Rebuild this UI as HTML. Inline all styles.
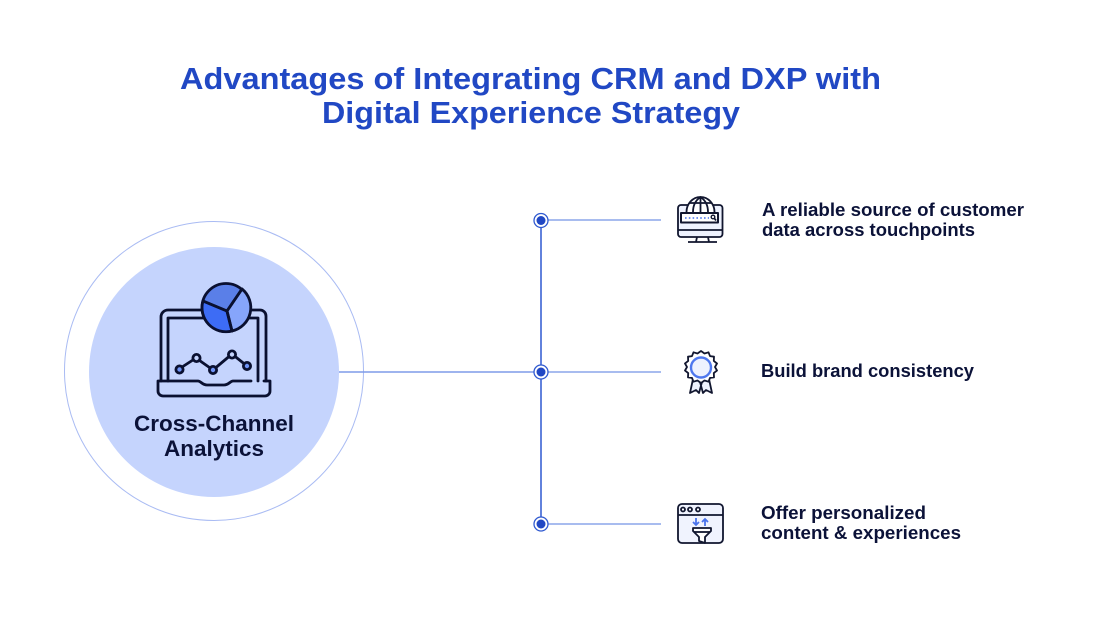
<!DOCTYPE html>
<html>
<head>
<meta charset="utf-8">
<style>
html,body{margin:0;padding:0;background:#fff;width:1115px;height:624px;overflow:hidden}
svg{display:block}
text{font-family:"Liberation Sans",sans-serif}
</style>
</head>
<body>
<svg width="1115" height="624" viewBox="0 0 1115 624" xmlns="http://www.w3.org/2000/svg">
<rect width="1115" height="624" fill="#fff"/>
<g font-weight="700" font-size="31" fill="#2148c4">
<text x="180" y="89" textLength="701" lengthAdjust="spacingAndGlyphs">Advantages of Integrating CRM and DXP with</text>
<text x="322" y="123" textLength="418" lengthAdjust="spacingAndGlyphs">Digital Experience Strategy</text>
</g>

<circle cx="214" cy="371" r="149.5" fill="none" stroke="#a9bbf3" stroke-width="1"/>
<circle cx="214" cy="372" r="125" fill="#c5d4fd"/>

<!-- connectors -->
<g fill="none">
<line x1="339" y1="372" x2="535" y2="372" stroke="#7f9be8" stroke-width="1.5"/>
<line x1="547" y1="372" x2="661" y2="372" stroke="#8ba5ea" stroke-width="1.5"/>
<line x1="547" y1="220" x2="661" y2="220" stroke="#8ba5ea" stroke-width="1.5"/>
<line x1="547" y1="524" x2="661" y2="524" stroke="#8ba5ea" stroke-width="1.5"/>
<line x1="541" y1="227" x2="541" y2="517" stroke="#2f59d0" stroke-width="1.5"/>
</g>
<g>
<circle cx="541" cy="220.500" r="7" fill="#fff" stroke="#2f59d0" stroke-width="1.3"/><circle cx="541" cy="220.500" r="4.500" fill="#2148c4"/>
<circle cx="541" cy="372" r="7" fill="#fff" stroke="#2f59d0" stroke-width="1.3"/><circle cx="541" cy="372" r="4.500" fill="#2148c4"/>
<circle cx="541" cy="524" r="7" fill="#fff" stroke="#2f59d0" stroke-width="1.3"/><circle cx="541" cy="524" r="4.500" fill="#2148c4"/>
</g>

<!-- laptop -->
<g stroke="#0a1030" stroke-width="2.800" fill="none" stroke-linecap="round" stroke-linejoin="round">
<path d="M161 381V317a7 7 0 0 1 7-7H260a6 6 0 0 1 6 6V381"/>
<path d="M168 381V318H258V381"/>
<path d="M158 381H198c3 0 4 4 9 4H224c5 0 6-4 9-4H251M158 381V391a5 5 0 0 0 5 5H265a5 5 0 0 0 5-5V381H264"/>
<path d="M179 369L196 358M196 358L213 370M213 370L232 354M232 354L247 366"/>
<circle cx="179.500" cy="369.500" r="3.600" fill="#6f93f5"/>
<circle cx="196.500" cy="358" r="3.600" fill="#c5d4fd"/>
<circle cx="213" cy="370" r="3.600" fill="#6f93f5"/>
<circle cx="232" cy="354.500" r="3.600" fill="#c5d4fd"/>
<circle cx="247" cy="366" r="3.600" fill="#6f93f5"/>
<circle cx="226" cy="307.500" r="24" fill="#5a7fe8"/>
<path d="M227 311L203 301A24 24 0 0 0 232 331Z" fill="#3d6cf5"/>
<path d="M227 311L232 331A24 24 0 0 0 242 289Z" fill="#86a5fb"/>
<path d="M227 311L203 301M227 311L232 331M227 311L242 289"/>
</g>
<g font-weight="700" font-size="22" fill="#0b1238">
<text x="134" y="431" textLength="160" lengthAdjust="spacingAndGlyphs">Cross-Channel</text>
<text x="164" y="456" textLength="100" lengthAdjust="spacingAndGlyphs">Analytics</text>
</g>

<!-- globe monitor icon -->
<g stroke="#11162f" stroke-width="1.800" fill="none" stroke-linejoin="round">
<rect x="678" y="205" width="44.500" height="32" rx="3" fill="#eef2fe"/>
<path d="M688 242H717M697 237L696 242M708 237L709 242"/>
<path d="M686.500 212A14 15 0 0 1 714.500 212" fill="#fff"/>
<path d="M693 212C693 205 696 200 700.500 197C705 200 708 205 708 212M700.500 197V212M689 203H712"/>
<rect x="681" y="213" width="37" height="9.500" fill="#fff" stroke-width="2"/>
<line x1="678" y1="230" x2="722" y2="230"/>
<circle cx="713" cy="217" r="1.800" stroke-width="1.400"/>
<line x1="714.500" y1="218.500" x2="716" y2="220.500"/>
<line x1="685" y1="218" x2="709" y2="218" stroke="#5f82ee" stroke-width="1.800" stroke-dasharray="1.600 2.200"/>
</g>

<!-- badge icon -->
<g stroke="#11162f" stroke-width="1.800" fill="#eef2fe" stroke-linejoin="round">
<path d="M693 379L690 393L696 390L699 393L702 382ZM709 379L712 393L706 390L703 393L700 382Z"/>
<path fill="#fff" d="M701 351l3.500 2.500 4-1.200 1.500 3.800 4 .6-.2 4.200 3.200 2.600-2 3.500 2 3.500-3.200 2.600.2 4.200-4 .6-1.500 3.800-4-1.200-3.500 2.500-3.500-2.500-4 1.200-1.500-3.800-4-.6.2-4.200-3.200-2.600 2-3.500-2-3.500 3.200-2.600-.2-4.200 4-.6 1.500-3.800 4 1.200z"/>
<circle cx="701" cy="367.500" r="10" fill="#eef2fe" stroke="#4f78ee" stroke-width="2.400"/>
</g>

<!-- funnel window icon -->
<g stroke="#11162f" stroke-width="1.800" fill="#f0f3fe" stroke-linejoin="round">
<rect x="678" y="504" width="45" height="39" rx="4"/>
<line x1="678" y1="515" x2="723" y2="515"/>
<circle cx="683" cy="509.500" r="2" fill="#fff"/>
<circle cx="690" cy="509.500" r="2" fill="#fff"/>
<circle cx="698" cy="509.500" r="2" fill="#fff"/>
<path d="M693 528H711V531L705 537V543L699 541V537L693 531Z" fill="#fff"/>
<line x1="694" y1="532" x2="710" y2="532"/>
</g>
<g stroke="#4a73ec" stroke-width="1.800" fill="none">
<path d="M696 518V525M693 522L696 525L699 522"/>
<path d="M705 526V519M702 522L705 519L708 522"/>
</g>

<g font-weight="700" font-size="18" fill="#0b1238">
<text x="762" y="216" textLength="262" lengthAdjust="spacingAndGlyphs">A reliable source of customer</text>
<text x="762" y="236" textLength="213" lengthAdjust="spacingAndGlyphs">data across touchpoints</text>
<text x="761" y="377" textLength="213" lengthAdjust="spacingAndGlyphs">Build brand consistency</text>
<text x="761" y="519" textLength="165" lengthAdjust="spacingAndGlyphs">Offer personalized</text>
<text x="761" y="539" textLength="200" lengthAdjust="spacingAndGlyphs">content &amp; experiences</text>
</g>
</svg>
</body>
</html>
